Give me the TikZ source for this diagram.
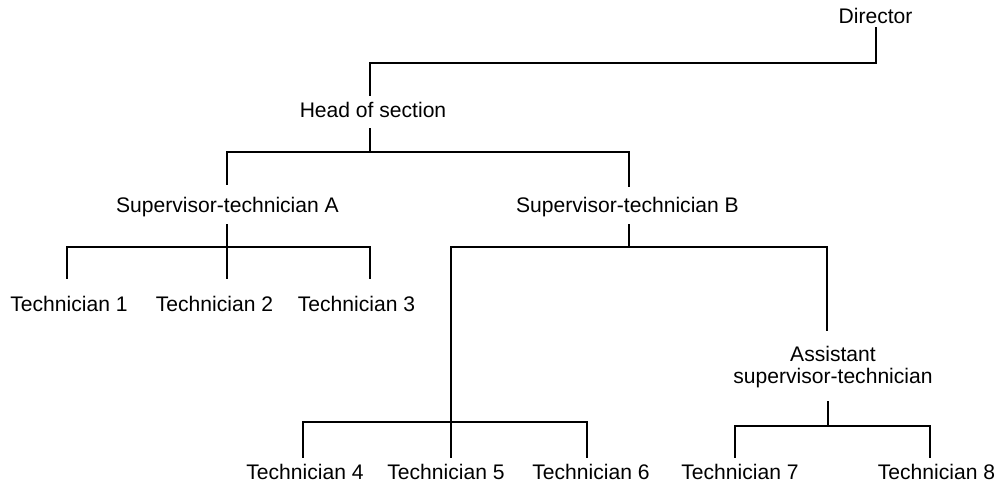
\documentclass[tikz,border=0pt]{standalone}
\usepackage{fontspec}
\setmainfont{Liberation Sans}
\begin{document}
\begin{tikzpicture}[x=0.02cm,y=-0.02cm,
  role/.style={anchor=base,inner sep=0pt,outer sep=0pt,font=\fontsize{12}{12}\selectfont},
  link/.style={line width=1.1pt,line join=miter,line cap=rect}]
\useasboundingbox (0,0) rectangle (1000,486);

% staff
\node[role] (dir)   at (875.5,24)  {Director};
\node[role] (head)  at (373,118)   {Head of section};
\node[role] (supA)  at (227.5,213) {Supervisor-technician A};
\node[role] (supB)  at (627.5,213) {Supervisor-technician B};
\node[role,align=center] (asst) at (833,383) {Assistant\\supervisor-technician};
\node[role] (t1) at (69,311) {Technician 1};
\node[role] (t2) at (214.5,311) {Technician 2};
\node[role] (t3) at (356.5,311) {Technician 3};
\node[role] (t4) at (305,479) {Technician 4};
\node[role] (t5) at (446,479) {Technician 5};
\node[role] (t6) at (591,479) {Technician 6};
\node[role] (t7) at (740,479) {Technician 7};
\node[role] (t8) at (936.5,479) {Technician 8};

% line ends and bus corners
\coordinate (dTop) at (876,28);
\coordinate (dBus) at (876,63);
\coordinate (hBus) at (370,63);
\coordinate (hTop) at (370,95);
\coordinate (hBot) at (370,129);
\coordinate (hMid) at (370,152);
\coordinate (aBus) at (227,152);
\coordinate (aTop) at (227,184);
\coordinate (bBus) at (629,152);
\coordinate (bTop) at (629,186);
\coordinate (aBot) at (227,225);
\coordinate (aMid) at (227,247);
\coordinate (aL)   at (67,247);
\coordinate (aR)   at (370,247);
\coordinate (t1Top) at (67,278);
\coordinate (t2Top) at (227,278);
\coordinate (t3Top) at (370,278);
\coordinate (bBot) at (629,225);
\coordinate (bMid) at (629,247);
\coordinate (bL)   at (451,247);
\coordinate (bR)   at (827,247);
\coordinate (asTop) at (827,330);
\coordinate (t5Top) at (451,457);
\coordinate (gL)   at (303,422);
\coordinate (gR)   at (587,422);
\coordinate (t4Top) at (303,457);
\coordinate (t6Top) at (587,457);
\coordinate (asBot) at (828,402);
\coordinate (asMid) at (828,426);
\coordinate (cL)   at (735,426);
\coordinate (cR)   at (930,426);
\coordinate (t7Top) at (735,457);
\coordinate (t8Top) at (930,457);

% director to head of section
\draw[link] (dTop) -- (dBus) -- (hBus) -- (hTop);
% head of section to both supervisors
\draw[link] (hBot) -- (hMid);
\draw[link] (aTop) -- (aBus) -- (bBus) -- (bTop);
% supervisor A to technicians 1-3
\draw[link] (aBot) -- (t2Top);
\draw[link] (t1Top) -- (aL) -- (aR) -- (t3Top);
% supervisor B to technicians 4-6 and the assistant
\draw[link] (bBot) -- (bMid);
\draw[link] (t5Top) -- (bL) -- (bR) -- (asTop);
\draw[link] (t4Top) -- (gL) -- (gR) -- (t6Top);
% assistant to technicians 7-8
\draw[link] (asBot) -- (asMid);
\draw[link] (t7Top) -- (cL) -- (cR) -- (t8Top);
\end{tikzpicture}
\end{document}
